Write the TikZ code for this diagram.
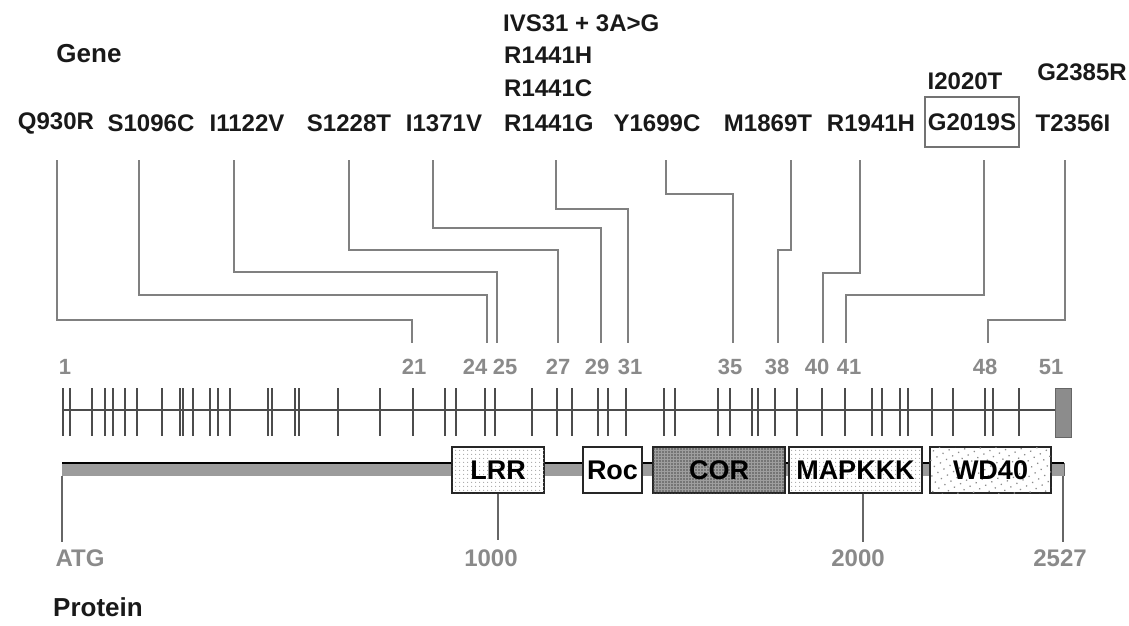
\documentclass[tikz,border=0pt]{standalone}
\usepackage{fontspec}
\setmainfont{Liberation Sans}
\usetikzlibrary{patterns.meta}
\definecolor{conngray}{HTML}{808080}
\definecolor{numgray}{HTML}{8A8A8A}
\definecolor{bargray}{HTML}{9C9C9C}
\begin{document}
\begin{tikzpicture}[x=1pt,y=-1pt,
  mut/.style={font=\fontsize{24}{28}\selectfont\bfseries, inner sep=0pt, text=black!90},
  head/.style={font=\fontsize{26}{30}\selectfont\bfseries, inner sep=0pt, text=black!90},
  exn/.style={font=\fontsize{22}{26}\selectfont\bfseries, inner sep=0pt, text=numgray},
  poslbl/.style={font=\fontsize{24}{28}\selectfont\bfseries, inner sep=0pt, text=numgray},
  conn/.style={draw=conngray, line width=2pt},
  exontick/.style={draw=black!70, line width=1.6pt},
  dom/.style={draw=black!85, line width=1.4pt, inner sep=0pt, font=\fontsize{27}{30}\selectfont\bfseries, text=black},
  lightdots/.style={fill=white, postaction={pattern={Dots[radius=0.7pt, distance=4pt]}, pattern color=black!35}},
  sparsedots/.style={fill=white, postaction={pattern={Dots[radius=0.9pt, distance=7pt, angle=30]}, pattern color=black!45}},
  darkdots/.style={fill=black!38, postaction={pattern={Dots[radius=0.8pt, distance=3pt]}, pattern color=black!70}},
  vline/.style={draw=black!60, line width=1.6pt}]
\useasboundingbox (0,0) rectangle (1129,626);

% headings
\node[head] (gene) at (89,54) {Gene};
\node[head] (protein) at (98,607) {Protein};

% mutation labels
\node[mut] (m1) at (56,123) {Q930R};
\node[mut] (m2) at (151,123) {S1096C};
\node[mut] (m3) at (247,123) {I1122V};
\node[mut] (m4) at (349,123) {S1228T};
\node[mut] (m5) at (444,123) {I1371V};
\node[mut, anchor=west] (m6d) at (504,123) {R1441G};
\node[mut, anchor=west] (m6c) at (504,88) {R1441C};
\node[mut, anchor=west] (m6b) at (504,55) {R1441H};
\node[mut, anchor=west] (m6a) at (503,23) {IVS31 + 3A>G};
\node[mut] (m7) at (657,123) {Y1699C};
\node[mut] (m8) at (768,123) {M1869T};
\node[mut] (m9) at (871,123) {R1941H};
\node[mut, draw=black!55, line width=1.2pt, minimum width=94, minimum height=50] (m10) at (972,122) {G2019S};
\node[mut] (m10b) at (965,81) {I2020T};
\node[mut] (m11b) at (1082,72) {G2385R};
\node[mut] (m11) at (1073,123) {T2356I};

% exon numbers
\foreach \n/\x in {1/65,21/414,24/475,25/505,27/558,29/597,31/630,35/730,38/777,40/817,41/849,48/985,51/1051}
  \node[exn] (e\n) at (\x,367) {\n};

% connectors
\foreach \i/\x/\h/\b in {1/57/320/412, 2/139/295/487, 3/234/272/497, 4/349/250/558,
    5/433/228/601, 6/556/209/628, 7/666/194/733, 8/791/250/778, 9/860/273/823,
    10/984/295/846, 11/1065/320/988}{
  \coordinate (t\i) at (\x,160);
  \coordinate (b\i) at (\b,343);
  \draw[conn] (t\i) -- (t\i |- 0,\h) -| (b\i);
}

% exon track
\coordinate (xs) at (63,410);
\coordinate (xe) at (1056,410);
\draw[draw=black!70, line width=1.8pt] (xs) -- (xe);
\foreach \t in {63,70,92,105,113,125,137,162,180,183,193,210,218,230,268,272,295,299,338,380,
  413,445,456,485,495,532,557,572,598,608,626,664,675,718,730,752,758,775,797,822,845,872,882,
  900,908,932,953,985,993,1019}
  \draw[exontick] (\t,388) -- (\t,436);
\node[draw=black!60, fill=black!45, line width=1pt, minimum width=16, minimum height=49, inner sep=0pt] (ex51) at (1063,412.5) {};

% protein bar
\fill[bargray] (62,463) rectangle (1064,476);
\draw[black, line width=1.6pt] (62,463) -- (1064,463);
\draw[black!60, line width=1pt] (1064,463) -- (1064,476);

% domains
\node[dom, lightdots, minimum width=92, minimum height=46] (lrr) at (498,470) {LRR};
\node[dom, fill=white, minimum width=59, minimum height=46] (roc) at (612.5,470) {Roc};
\node[dom, darkdots, minimum width=132, minimum height=46] (cor) at (719,470) {COR};
\node[dom, lightdots, minimum width=133, minimum height=46] (mapkkk) at (855.5,470) {MAPKKK};
\node[dom, sparsedots, minimum width=121, minimum height=46] (wd40) at (990.5,470) {WD40};

% position ticks
\node[poslbl] (atg) at (80,558) {ATG};
\node[poslbl] (p1000) at (491,558) {1000};
\node[poslbl] (p2000) at (858,558) {2000};
\node[poslbl] (p2527) at (1060,558) {2527};
\coordinate (atgtop) at (62,476);
\draw[vline] (atgtop) -- (atgtop |- 0,542);
\draw[vline] (lrr.south) -- (lrr.south |- 0,540);
\draw[vline] (mapkkk.south -| 863,0) -- (863,542);
\draw[vline] (1063,476) -- (1063,542);
\end{tikzpicture}
\end{document}
